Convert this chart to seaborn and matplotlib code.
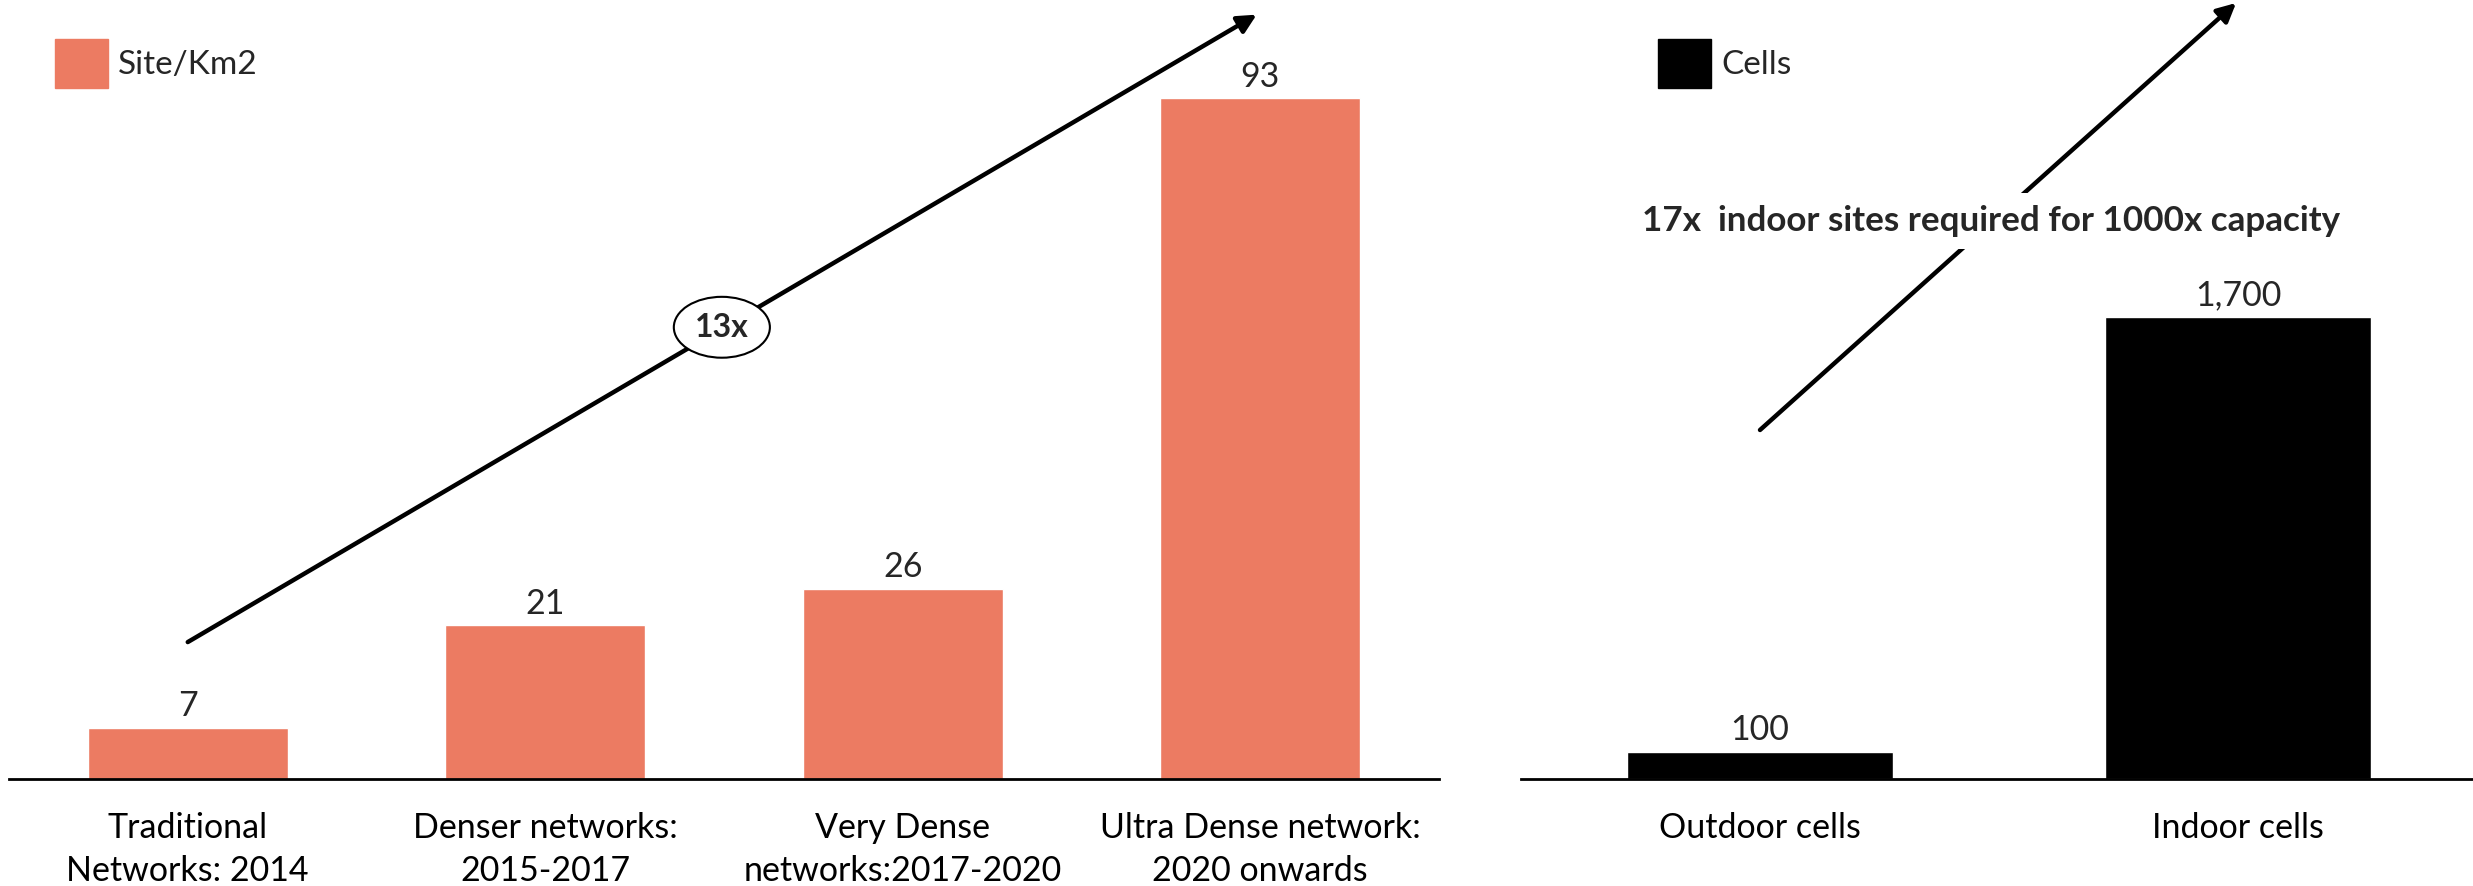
import matplotlib
matplotlib.use("Agg")
import matplotlib.pyplot as plt
import seaborn as sns
from matplotlib.patches import Patch

# data
network_types = ["Traditional\nNetworks: 2014", "Denser networks:\n2015-2017",
                 "Very Dense\nnetworks:2017-2020", "Ultra Dense network:\n2020 onwards"]
sites_per_km2 = [7, 21, 26, 93]
cell_types = ["Outdoor cells", "Indoor cells"]
cell_counts = [100, 1700]

salmon = "#EC7B62"

sns.set_theme(style="white")
plt.rcParams["font.family"] = ["Lato", "DejaVu Sans"]

fig = plt.figure(figsize=(24.73, 8.86), dpi=100)
ax1 = fig.add_axes([9 / 2473, 107 / 886, 1430 / 2473, 779 / 886])
ax2 = fig.add_axes([1521 / 2473, 107 / 886, 956 / 2473, 779 / 886])

# left chart
sns.barplot(x=network_types, y=sites_per_km2, color=salmon, width=0.56,
            saturation=1, ax=ax1)
ax1.set_xlim(-0.5, 3.5)
ax1.set_ylim(0, 106.4)
ax1.bar_label(ax1.containers[0], labels=[str(v) for v in sites_per_km2],
              padding=4, fontsize=24.5)

# right chart
sns.barplot(x=cell_types, y=cell_counts, color="black", width=0.555,
            saturation=1, ax=ax2)
ax2.set_xlim(-0.5, 1.5)
ax2.set_ylim(0, 2866)
ax2.bar_label(ax2.containers[0], labels=[f"{v:,}" for v in cell_counts],
              padding=4, fontsize=24.5)

for ax in (ax1, ax2):
    for s in ("left", "top", "right"):
        ax.spines[s].set_visible(False)
    ax.spines["bottom"].set_color("black")
    ax.spines["bottom"].set_linewidth(2)
    ax.set_yticks([])
    ax.set_xlabel("")
    ax.set_ylabel("")
    ax.tick_params(axis="x", length=0, pad=24, labelsize=24.5, colors="black")
    for lab in ax.get_xticklabels():
        lab.set_linespacing(1.4)
    ax.patch.set_alpha(0)

# legends
ax1.legend(handles=[Patch(color=salmon, label="Site/Km2")],
           loc="upper left", bbox_to_anchor=(55 / 2473, 1 - 39 / 886),
           bbox_transform=fig.transFigure, frameon=False, fontsize=24,
           handlelength=1.6, handleheight=1.9, handletextpad=0.3,
           borderpad=0, borderaxespad=0)
ax2.legend(handles=[Patch(color="black", label="Cells")],
           loc="upper left", bbox_to_anchor=(1658 / 2473, 1 - 39 / 886),
           bbox_transform=fig.transFigure, frameon=False, fontsize=24,
           handlelength=1.6, handleheight=1.9, handletextpad=0.3,
           borderpad=0, borderaxespad=0)

# growth arrows
ax1.annotate("", xy=(2.99, 104.4), xytext=(0, 18.7),
             arrowprops=dict(arrowstyle="-|>", lw=3.2, color="black",
                             mutation_scale=28, shrinkA=0, shrinkB=0),
             annotation_clip=False)
ax1.text(1.494, 61.7, "13x", ha="center", va="center", fontsize=23,
         fontweight="bold",
         bbox=dict(boxstyle="ellipse,pad=0.22", facecolor="white",
                   edgecolor="black", lw=1.5), zorder=5)

ax2.annotate("", xy=(0.996, 2855), xytext=(0, 1284),
             arrowprops=dict(arrowstyle="-|>", lw=3.2, color="black",
                             mutation_scale=28, shrinkA=0, shrinkB=0),
             annotation_clip=False)
ax2.text(0.483, 2053, "17x  indoor sites required for 1000x capacity",
         ha="center", va="center", fontsize=25.2, fontweight="bold",
         bbox=dict(boxstyle="square,pad=0.35", facecolor="white",
                   edgecolor="none"), zorder=5)

fig.savefig("out.png", dpi=100, facecolor="white")
